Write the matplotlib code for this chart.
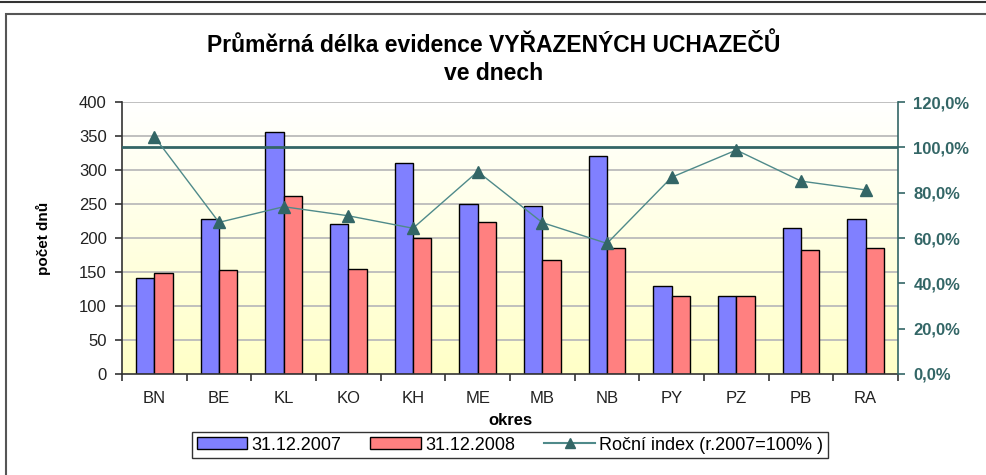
import matplotlib
matplotlib.use("Agg")
import matplotlib.pyplot as plt
import numpy as np
from matplotlib.patches import Rectangle
from matplotlib.lines import Line2D

plt.rcParams['font.family'] = ['Liberation Sans', 'DejaVu Sans']

# Data
okresy = ["BN", "BE", "KL", "KO", "KH", "ME", "MB", "NB", "PY", "PZ", "PB", "RA"]
dny_2007 = [141, 228, 356, 221, 311, 250, 247, 321, 130, 114, 215, 228]
dny_2008 = [148, 153, 262, 154, 200, 224, 167, 186, 114, 114, 182, 186]
index_pct = [104.7, 66.9, 73.8, 69.8, 64.3, 89.3, 66.8, 57.6, 86.8, 98.8, 85.1, 81.2]

teal = "#336666"

fig = plt.figure(figsize=(9.87, 4.75), dpi=100)
ax = fig.add_axes([122 / 987, 1 - 374 / 475, 776 / 987, 272 / 475])

# Outer frame of the picture
fig.add_artist(Line2D([0, 1], [1 - 1.5 / 475] * 2, color="#333333", lw=1.5,
                      transform=fig.transFigure))
fig.add_artist(Rectangle((6 / 987, -0.05), 1.1, 1 - 14 / 475 + 0.05, fill=False,
                         edgecolor="#555555", lw=1.5, transform=fig.transFigure))

x = np.arange(len(okresy))
w = 0.285

# Gradient background of the plot area
grad = np.linspace(0, 1, 256).reshape(-1, 1)
top_c = np.array([1.0, 1.0, 1.0])
bot_c = np.array([1.0, 1.0, 0.78])
img = top_c + (bot_c - top_c) * grad
ax.imshow(img[:, None, :].repeat(2, axis=1), extent=[-0.5, 11.5, 0, 400],
          aspect="auto", origin="upper", zorder=0)

for yv in range(50, 401, 50):
    ax.axhline(yv, color="#BBBBBB", lw=1.3, zorder=1)

ax.bar(x - w / 2, dny_2007, w, color="#8080FF", edgecolor="black", lw=1, zorder=2,
       label="31.12.2007")
ax.bar(x + w / 2, dny_2008, w, color="#FF8080", edgecolor="black", lw=1, zorder=2,
       label="31.12.2008")

ax.set_xlim(-0.5, 11.5)
ax.set_ylim(0, 400)
ax.set_yticks(range(0, 401, 50))
ax.set_xticks(x)
ax.set_xticklabels(okresy)
ax.set_xticks(np.arange(-0.5, 12, 1), minor=True)
ax.tick_params(axis="x", which="major", length=0, pad=12, labelsize=12, colors="#222222")
ax.tick_params(axis="x", which="minor", length=5, width=1.2, color="#333333", direction="out")
ax.tick_params(axis="y", length=5, width=1.2, color="#333333", labelsize=12,
               labelcolor="#222222", pad=6)
for s in ["top", "right"]:
    ax.spines[s].set_visible(False)
ax.spines["left"].set_color("#333333")
ax.spines["bottom"].set_color("#333333")
ax.spines["left"].set_linewidth(1.2)
ax.spines["bottom"].set_linewidth(1.2)

ax.set_ylabel("počet dnů", fontsize=11, fontweight="bold", labelpad=20)
ax.set_xlabel("okres", fontsize=12, fontweight="bold", labelpad=5)

# Secondary axis: annual index
ax2 = ax.twinx()
ax2.set_ylim(0, 120)
ax2.axhline(100, color=teal, lw=2, zorder=3)
ax2.plot(x, index_pct, color="#4F8A8A", lw=1, marker="^", markersize=8,
         markerfacecolor=teal, markeredgecolor=teal, zorder=4)
ax2.set_yticks(range(0, 121, 20))
ax2.set_yticklabels([f"{v:.1f}%".replace(".", ",") for v in range(0, 121, 20)])
ax2.tick_params(axis="y", length=5, width=1.2, color=teal, labelcolor=teal,
                labelsize=12, pad=6)
for lbl in ax2.get_yticklabels():
    lbl.set_fontweight("bold")
for s in ["top", "left", "bottom"]:
    ax2.spines[s].set_visible(False)
ax2.spines["right"].set_color(teal)
ax2.spines["right"].set_linewidth(1.2)

fig.text(0.5, 1 - 45 / 475, "Průměrná délka evidence VYŘAZENÝCH UCHAZEČŮ",
         ha="center", va="center", fontsize=16.5, fontweight="bold")
fig.text(0.5, 1 - 73 / 475, "ve dnech", ha="center", va="center",
         fontsize=16.5, fontweight="bold")

handles = [
    Rectangle((0, 0), 1, 1, facecolor="#8080FF", edgecolor="black"),
    Rectangle((0, 0), 1, 1, facecolor="#FF8080", edgecolor="black"),
    Line2D([], [], color="#4F8A8A", marker="^", markerfacecolor=teal,
           markeredgecolor=teal, markersize=7),
]
leg = fig.legend(handles, ["31.12.2007", "31.12.2008", "Roční index (r.2007=100% )"],
                 loc="center", bbox_to_anchor=(510 / 987, 1 - 445 / 475), ncol=3,
                 fontsize=13, frameon=True, fancybox=False, edgecolor="black",
                 handlelength=2.8, handleheight=0.6, handletextpad=0.25,
                 columnspacing=1.6, borderpad=0.25)
leg.get_frame().set_linewidth(1)

fig.savefig("out.png", dpi=100)
